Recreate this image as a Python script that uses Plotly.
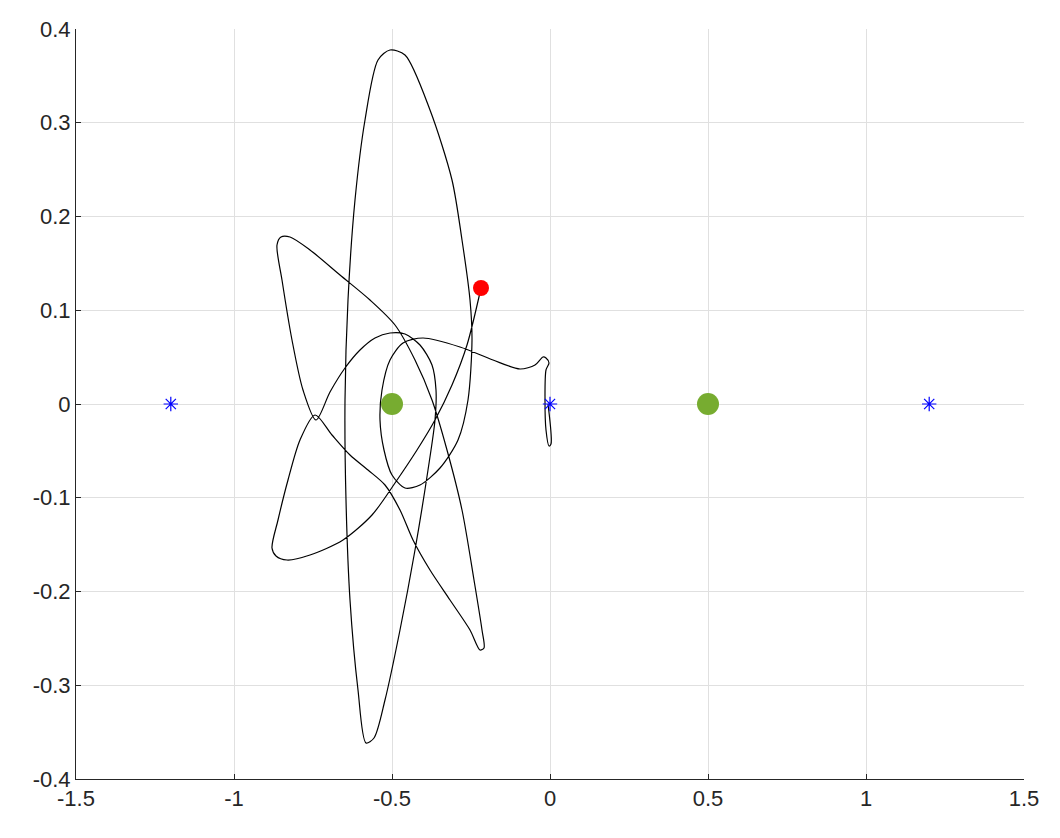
import plotly.graph_objects as go

# trajectory (pixel positions of the reference, converted to data units)
px = [548,551,549,546,545,546,549,546,543,535,520,493,460,423,403,390,382,380,384,392,405,420,440,458,468,472,470,462,452,430,405,390,378,365,355,348,345,346,350,358,366,374,385,400,415,428,435,436,432,420,405,390,375,360,345,330,316,303,292,282,277,281,290,310,340,370,395,415,432,447,462,474,482,484,480,470,450,430,413,400,385,368,350,332,315,300,288,278,272,276,287,310,343,372,395,417,435,452,467,481]
py = [404,444,446,430,400,370,363,358,357,365,369,360,347,338,343,360,390,420,450,475,488,485,468,440,400,340,300,240,180,110,55,50,60,120,200,300,400,500,600,690,743,738,700,630,550,470,420,390,365,345,334,333,338,350,368,392,420,390,340,280,245,237,237,250,275,300,325,360,400,450,510,580,630,648,650,630,600,570,540,510,485,470,455,435,415,440,480,520,548,556,560,555,540,515,483,450,420,385,345,288]
traj_x = [(p - 550) / 316.0 for p in px]
traj_y = [(404 - p) / 937.5 for p in py]

star_x = [-1.2, 0.0, 1.2]
star_y = [0, 0, 0]
body_x = [-0.5, 0.5]
body_y = [0, 0]
end_x = [traj_x[-1]]
end_y = [traj_y[-1]]

xt = [-1.5, -1, -0.5, 0, 0.5, 1, 1.5]
xt_text = ["-1.5", "-1", "-0.5", "0", "0.5", "1", "1.5"]
yt = [-0.4, -0.3, -0.2, -0.1, 0, 0.1, 0.2, 0.3, 0.4]
yt_text = ["-0.4", "-0.3", "-0.2", "-0.1", "0", "0.1", "0.2", "0.3", "0.4"]

fig = go.Figure()
fig.add_trace(go.Scatter(x=traj_x, y=traj_y, mode="lines", line=dict(color="black", width=1.2, shape="spline", smoothing=0.8)))
fig.add_trace(go.Scatter(x=body_x, y=body_y, mode="markers", marker=dict(color="#77ac30", size=22)))
fig.add_trace(go.Scatter(x=star_x, y=star_y, mode="markers", marker=dict(color="blue", size=12, symbol="asterisk-open", line=dict(color="blue", width=1.2))))
fig.add_trace(go.Scatter(x=end_x, y=end_y, mode="markers", marker=dict(color="red", size=16)))

ax = dict(showgrid=True, gridcolor="#e0e0e0", zeroline=False, showline=True, linecolor="#262626", mirror=False,
          ticks="inside", ticklen=5, tickcolor="#262626", automargin=False,
          tickfont=dict(family="Liberation Sans, Arial", size=22, color="#262626"))
fig.update_layout(
    width=1060, height=838, showlegend=False, plot_bgcolor="white", paper_bgcolor="white",
    margin=dict(l=68, r=44, t=21, b=67),
    xaxis=dict(ax, range=[-1.5, 1.5], tickvals=xt, ticktext=xt_text),
    yaxis=dict(ax, range=[-0.4, 0.4], tickvals=yt, ticktext=yt_text),
)
fig.write_html("out.html")
